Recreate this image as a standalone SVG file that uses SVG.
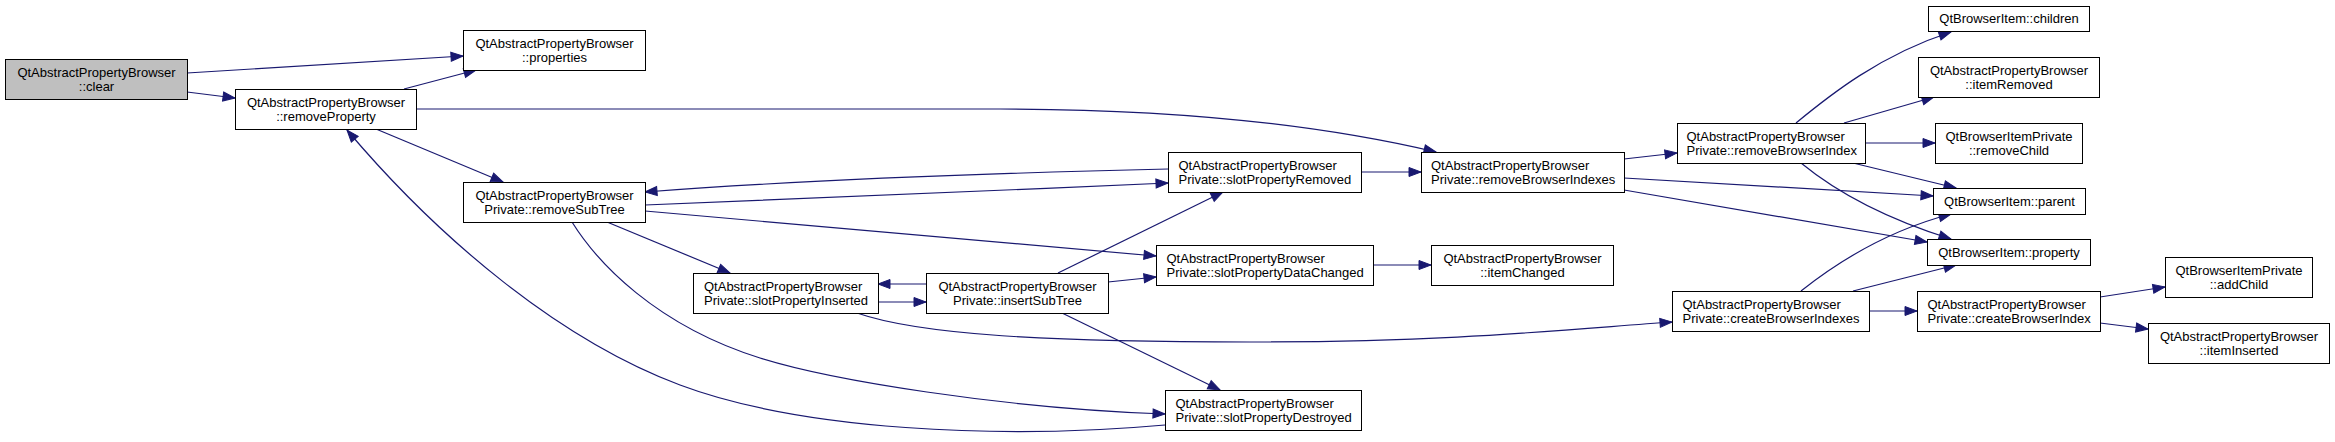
<svg xmlns="http://www.w3.org/2000/svg" width="2335" height="442" viewBox="0 0 2335 442">
<style>
  .node rect { fill: #ffffff; stroke: #000000; stroke-width: 1; }
  .node.root rect { fill: #bfbfbf; }
  .node text { font-family: "Liberation Sans", Arial, sans-serif; font-size: 13px; fill: #000000; }
  .node text.c { text-anchor: middle; }
  .node text.l { text-anchor: start; }
  .edges path { fill: none; stroke: #191970; stroke-width: 1.2; marker-end: url(#arr); }
</style>
<defs>
  <marker id="arr" markerUnits="userSpaceOnUse" markerWidth="13" markerHeight="10" refX="12" refY="4.5" orient="auto" overflow="visible">
    <path d="M0,0 L12,4.5 L0,9 Z" fill="#191970" stroke="#191970" stroke-width="1"/>
  </marker>
</defs>
<rect x="0" y="0" width="2335" height="442" fill="#ffffff"/>

<g class="edges" id="edges">
  <path d="M187,73 L463,56"/>
  <path d="M187,92 L235,98"/>
  <path d="M404,89 L476,70"/>
  <path d="M416,109 L1000,109 C1150,109 1300,120 1436,152"/>
  <path d="M376,129 L503,182"/>
  <path d="M1165,425 C1000,440 800,430 680,385 C560,340 440,240 347,130"/>
  <path d="M572,222 C597,262 655,325 760,358 C830,380 1000,408 1165,414"/>
  <path d="M607,222 L730,273"/>
  <path d="M1168,169 C1000,173 800,180 645,192"/>
  <path d="M645,205 C850,198 1000,190 1168,183"/>
  <path d="M645,211 L1156,256"/>
  <path d="M878,302 L926,302"/>
  <path d="M926,284 L878,284"/>
  <path d="M857,313 C920,335 1050,342 1250,342 C1450,342 1560,330 1672,322"/>
  <path d="M1058,273 L1223,192"/>
  <path d="M1108,282 L1156,277"/>
  <path d="M1062,313 L1220,390"/>
  <path d="M1361,172 L1421,172"/>
  <path d="M1373,265 L1431,265"/>
  <path d="M1624,159 L1677,153"/>
  <path d="M1624,178 L1933,196"/>
  <path d="M1624,190 L1927,242"/>
  <path d="M1796,123 C1830,95 1880,55 1951,32"/>
  <path d="M1844,123 L1934,97"/>
  <path d="M1865,143 L1935,143"/>
  <path d="M1853,163 L1956,188"/>
  <path d="M1801,163 C1840,195 1890,220 1951,239"/>
  <path d="M1801,291 C1840,260 1890,230 1951,214"/>
  <path d="M1853,291 L1956,265"/>
  <path d="M1869,311 L1917,311"/>
  <path d="M2100,297 L2165,287"/>
  <path d="M2100,323 L2148,329"/>
</g>

<g class="node root" id="clear">
  <rect x="5.5" y="59.5" width="182" height="40"/>
  <text class="c" x="96.5" y="76.5">QtAbstractPropertyBrowser</text>
  <text class="c" x="96.5" y="91">::clear</text>
</g>
<g class="node" id="properties">
  <rect x="463.5" y="30.5" width="182" height="40"/>
  <text class="c" x="554.5" y="47.5">QtAbstractPropertyBrowser</text>
  <text class="c" x="554.5" y="62">::properties</text>
</g>
<g class="node" id="removeProperty">
  <rect x="235.5" y="89.5" width="181" height="40"/>
  <text class="c" x="326" y="106.5">QtAbstractPropertyBrowser</text>
  <text class="c" x="326" y="121">::removeProperty</text>
</g>
<g class="node" id="removeSubTree">
  <rect x="463.5" y="182.5" width="182" height="40"/>
  <text class="c" x="554.5" y="199.5">QtAbstractPropertyBrowser</text>
  <text class="c" x="554.5" y="214">Private::removeSubTree</text>
</g>
<g class="node" id="slotPropertyInserted">
  <rect x="693.5" y="273.5" width="185" height="40"/>
  <text class="l" x="704" y="290.5">QtAbstractPropertyBrowser</text>
  <text class="l" x="704" y="305">Private::slotPropertyInserted</text>
</g>
<g class="node" id="insertSubTree">
  <rect x="926.5" y="273.5" width="182" height="40"/>
  <text class="c" x="1017.5" y="290.5">QtAbstractPropertyBrowser</text>
  <text class="c" x="1017.5" y="305">Private::insertSubTree</text>
</g>
<g class="node" id="slotPropertyRemoved">
  <rect x="1168.5" y="152.5" width="193" height="40"/>
  <text class="l" x="1178.5" y="169.5">QtAbstractPropertyBrowser</text>
  <text class="l" x="1178.5" y="184">Private::slotPropertyRemoved</text>
</g>
<g class="node" id="slotPropertyDataChanged">
  <rect x="1156.5" y="245.5" width="217" height="40"/>
  <text class="l" x="1166.5" y="262.5">QtAbstractPropertyBrowser</text>
  <text class="l" x="1166.5" y="277">Private::slotPropertyDataChanged</text>
</g>
<g class="node" id="slotPropertyDestroyed">
  <rect x="1165.5" y="390.5" width="196" height="40"/>
  <text class="l" x="1175.5" y="407.5">QtAbstractPropertyBrowser</text>
  <text class="l" x="1175.5" y="422">Private::slotPropertyDestroyed</text>
</g>
<g class="node" id="removeBrowserIndexes">
  <rect x="1421.5" y="152.5" width="203" height="40"/>
  <text class="l" x="1431" y="169.5">QtAbstractPropertyBrowser</text>
  <text class="l" x="1431" y="184">Private::removeBrowserIndexes</text>
</g>
<g class="node" id="itemChanged">
  <rect x="1431.5" y="245.5" width="182" height="40"/>
  <text class="c" x="1522.5" y="262.5">QtAbstractPropertyBrowser</text>
  <text class="c" x="1522.5" y="277">::itemChanged</text>
</g>
<g class="node" id="removeBrowserIndex">
  <rect x="1677.5" y="123.5" width="188" height="40"/>
  <text class="l" x="1686.5" y="140.5">QtAbstractPropertyBrowser</text>
  <text class="l" x="1686.5" y="155">Private::removeBrowserIndex</text>
</g>
<g class="node" id="createBrowserIndexes">
  <rect x="1672.5" y="291.5" width="197" height="40"/>
  <text class="l" x="1682.5" y="308.5">QtAbstractPropertyBrowser</text>
  <text class="l" x="1682.5" y="323">Private::createBrowserIndexes</text>
</g>
<g class="node" id="createBrowserIndex">
  <rect x="1917.5" y="291.5" width="183" height="40"/>
  <text class="l" x="1927.5" y="308.5">QtAbstractPropertyBrowser</text>
  <text class="l" x="1927.5" y="323">Private::createBrowserIndex</text>
</g>
<g class="node" id="children">
  <rect x="1928.5" y="6.5" width="161" height="25"/>
  <text class="c" x="2009" y="23">QtBrowserItem::children</text>
</g>
<g class="node" id="itemRemoved">
  <rect x="1918.5" y="57.5" width="181" height="40"/>
  <text class="c" x="2009" y="74.5">QtAbstractPropertyBrowser</text>
  <text class="c" x="2009" y="89">::itemRemoved</text>
</g>
<g class="node" id="removeChild">
  <rect x="1935.5" y="123.5" width="147" height="40"/>
  <text class="c" x="2009" y="140.5">QtBrowserItemPrivate</text>
  <text class="c" x="2009" y="155">::removeChild</text>
</g>
<g class="node" id="parent">
  <rect x="1933.5" y="188.5" width="152" height="26"/>
  <text class="c" x="2009.5" y="206">QtBrowserItem::parent</text>
</g>
<g class="node" id="property">
  <rect x="1927.5" y="239.5" width="163" height="26"/>
  <text class="c" x="2009" y="257">QtBrowserItem::property</text>
</g>
<g class="node" id="addChild">
  <rect x="2165.5" y="257.5" width="147" height="40"/>
  <text class="c" x="2239" y="274.5">QtBrowserItemPrivate</text>
  <text class="c" x="2239" y="289">::addChild</text>
</g>
<g class="node" id="itemInserted">
  <rect x="2148.5" y="323.5" width="181" height="40"/>
  <text class="c" x="2239" y="340.5">QtAbstractPropertyBrowser</text>
  <text class="c" x="2239" y="355">::itemInserted</text>
</g>
</svg>
